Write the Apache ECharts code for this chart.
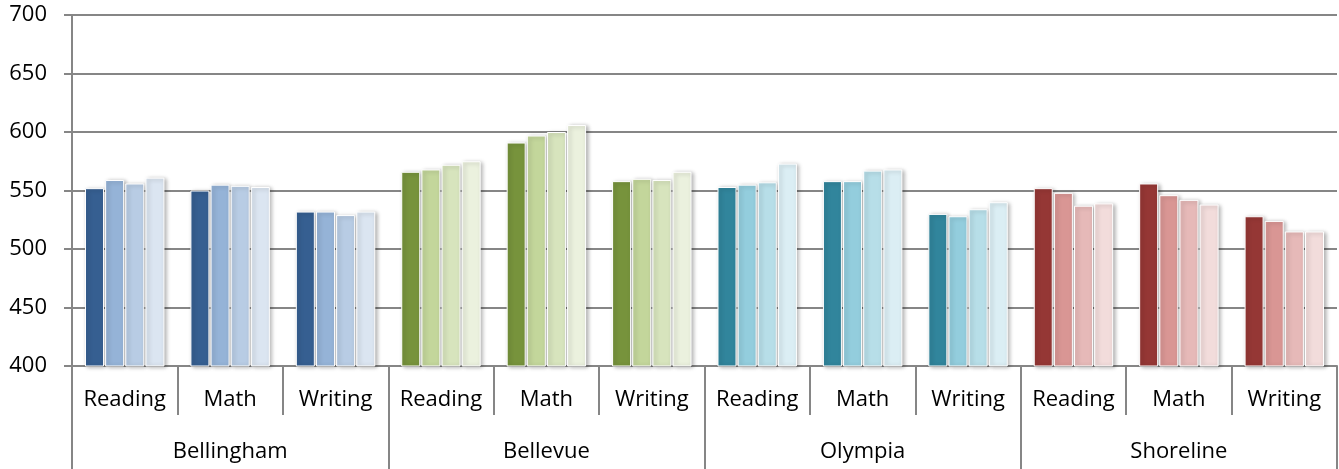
<!DOCTYPE html>
<html><head><meta charset="utf-8">
<script src="https://cdn.jsdelivr.net/npm/echarts@6/dist/echarts.min.js"></script>
<style>html,body{margin:0;padding:0;background:#fff}#c{width:1339px;height:469px}</style>
</head><body><div id="c"></div>
<script>
const cities = ['Bellingham','Bellevue','Olympia','Shoreline'];
const subjects = ['Reading','Math','Writing'];
const yTicks = [400,450,500,550,600,650,700];
// four bars per subject group (shade 1..4), order: city x subject
const s1 = [552,550,532, 566,591,558, 553,558,530, 552,556,528];
const s2 = [559,555,532, 568,597,560, 555,558,528, 548,546,524];
const s3 = [556,554,529, 572,600,559, 557,567,534, 537,542,515];
const s4 = [561,553,532, 575,606,566, 573,568,540, 539,538,515];
const palette = [
  ['#365F91','#95B3D7','#B8CCE4','#DBE5F1'],
  ['#77933C','#C3D69B','#D7E4BD','#EBF1DE'],
  ['#31859C','#93CDDD','#B7DEE8','#DBEEF4'],
  ['#953735','#D99694','#E6B9B8','#F2DCDB']
];
const cats = [];
cities.forEach(c => subjects.forEach(s => cats.push(s)));
const allSeries = [s1,s2,s3,s4];
const font = 'Open Sans';
const chart = echarts.init(document.getElementById('c'));
chart.setOption({
  animation:false,
  grid:{left:72,right:2,top:15,bottom:103},
  xAxis:[{
    type:'category', data:cats, position:'bottom',
    axisLine:{show:true,lineStyle:{color:'#868686',width:2}},
    axisTick:{show:true,length:49,interval:0,lineStyle:{color:'#868686',width:2}},
    axisLabel:{color:'#000',fontFamily:font,fontSize:22,margin:23,interval:0}
  },{
    type:'category', data:cities, position:'bottom', offset:0,
    axisLine:{show:false},
    axisTick:{show:true,length:103,interval:0,lineStyle:{color:'#868686',width:2}},
    axisLabel:{color:'#000',fontFamily:font,fontSize:22,margin:75,interval:0}
  }],
  yAxis:{
    type:'value', min:400, max:700, interval:50,
    axisLine:{show:true,lineStyle:{color:'#868686',width:2}},
    axisTick:{show:true,length:8,lineStyle:{color:'#868686',width:2}},
    axisLabel:{color:'#000',fontFamily:font,fontSize:22,margin:25,
      formatter:v => yTicks.includes(v) ? String(v) : ''},
    splitLine:{lineStyle:{color:'#868686',width:2}}
  },
  series: allSeries.map((d,k)=>({
    type:'bar', xAxisIndex:0, barWidth:19, barGap:'6%',
    data:d.map((v,i)=>({value:v,itemStyle:{color:palette[Math.floor(i/3)][k]}})),
    itemStyle:{borderColor:'#fff',borderWidth:1,shadowColor:'rgba(0,0,0,0.3)',shadowBlur:4,shadowOffsetX:2,shadowOffsetY:1}
  }))
});
</script></body></html>
